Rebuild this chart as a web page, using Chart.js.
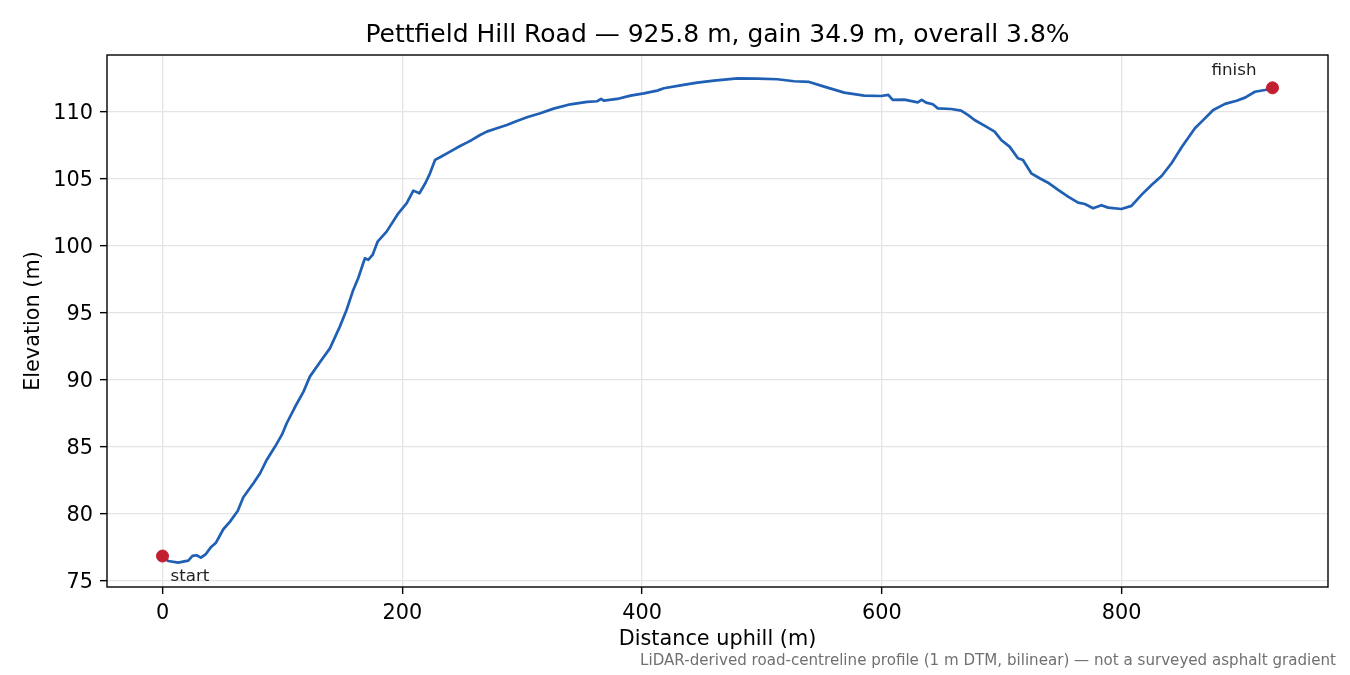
<!DOCTYPE html>
<html>
<head>
<meta charset="utf-8">
<script src="https://cdn.jsdelivr.net/npm/chart.js@4.4.1/dist/chart.umd.min.js"></script>
<style>
    html, body { margin: 0; padding: 0; background: #fff; }
    #wrap { width: 1350px; height: 675px; }
</style>
</head>
<body>
<div id="wrap"><canvas id="profile-chart" width="1350" height="675"></canvas></div>
<script>
// distance along the road (m) and elevation (m)
const distance = [
    0, 4.7, 13.1, 21.5, 25, 28.4, 32, 36.2, 40.1, 44.6,
    50.7, 56.3, 62.7, 67.4, 75.8, 81.4, 86.9, 93.9, 99.5, 103.6,
    110.6, 117.6, 122.9, 132.6, 139.6, 147.9, 153.5, 159.1, 163.2, 168.8,
    171.6, 175.2, 179.4, 186.9, 196.7, 203.7, 209.2, 214.3, 219.4, 223.1,
    227.3, 231.5, 239.9, 248.2, 253.8, 258, 264.9, 270.5, 278.9, 287.2,
    295.6, 304, 315.1, 326.2, 340.2, 354.1, 362.5, 365.8, 368, 379.2,
    390.3, 401.5, 412.6, 418.2, 432.1, 446, 460, 479.5, 496.2, 512.9,
    526.8, 539.4, 551.9, 568.6, 585.3, 599.3, 605.4, 609, 618.7, 629.9,
    633.2, 636.9, 642.5, 646.7, 657.8, 666.1, 671.7, 677.3, 687, 694,
    699.5, 706.5, 713.5, 717.7, 724.6, 731.6, 738.6, 747, 755.3, 763.7,
    769.3, 776.2, 783.1, 788.7, 799.8, 808.2, 816.5, 824.9, 833.3, 841.6,
    850, 861.1, 866.7, 876.4, 886.2, 895.9, 902.9, 911.2, 919.6, 925.8
];
const elevation = [
    76.86, 76.49, 76.37, 76.52, 76.87, 76.92, 76.74, 77.01, 77.49, 77.86,
    78.86, 79.43, 80.22, 81.25, 82.29, 83.04, 84.03, 85.03, 85.9, 86.77,
    88.0, 89.13, 90.25, 91.49, 92.36, 93.98, 95.22, 96.72, 97.59, 99.08,
    98.96, 99.33, 100.32, 101.07, 102.44, 103.19, 104.13, 103.93, 104.72, 105.42,
    106.42, 106.62, 107.04, 107.46, 107.71, 107.91, 108.28, 108.53, 108.78, 109.03,
    109.33, 109.6, 109.9, 110.25, 110.57, 110.75, 110.8, 110.97, 110.84, 110.97,
    111.22, 111.39, 111.59, 111.77, 111.98, 112.19, 112.34, 112.51, 112.49, 112.44,
    112.29, 112.24, 111.89, 111.44, 111.22, 111.19, 111.27, 110.9, 110.92, 110.72,
    110.9, 110.7, 110.57, 110.27, 110.22, 110.1, 109.78, 109.4, 108.9, 108.53,
    107.91, 107.41, 106.54, 106.42, 105.42, 105.05, 104.72, 104.18, 103.68, 103.23,
    103.13, 102.81, 103.04, 102.86, 102.76, 102.99, 103.81, 104.55, 105.22, 106.17,
    107.36, 108.78, 109.28, 110.15, 110.6, 110.84, 111.07, 111.51, 111.64, 111.8
];

const markerDist = [0, 925.8];
const markerElev = [76.86, 111.8];
const markerText = ["start", "finish"];

const xTicks = [0, 200, 400, 600, 800];
const yTicks = [75, 80, 85, 90, 95, 100, 105, 110];

const titleText = "Pettfield Hill Road — 925.8 m, gain 34.9 m, overall 3.8%";
const noteText = "LiDAR-derived road-centreline profile (1 m DTM, bilinear) — not a surveyed asphalt gradient";
const FONT = "'DejaVu Sans', sans-serif";

// title, frame, start/finish labels and the footnote
const extras = {
    id: 'extras',
    afterDraw(chart) {
        const { ctx, chartArea: a, scales: { x, y } } = chart;
        ctx.save();
        ctx.strokeStyle = '#000';
        ctx.lineWidth = 1.4;
        ctx.strokeRect(a.left, a.top, a.right - a.left, a.bottom - a.top);

        ctx.fillStyle = '#000';
        ctx.font = `25px ${FONT}`;
        ctx.textAlign = 'center';
        ctx.textBaseline = 'alphabetic';
        ctx.fillText(titleText, (a.left + a.right) / 2, 42);

        ctx.font = `16.7px ${FONT}`;
        ctx.fillStyle = '#222';
        const sx = x.getPixelForValue(markerDist[0]);
        const sy = y.getPixelForValue(markerElev[0]);
        ctx.textAlign = 'left';
        ctx.fillText(markerText[0], sx + 8, sy + 25);
        const fx = x.getPixelForValue(markerDist[1]);
        const fy = y.getPixelForValue(markerElev[1]);
        ctx.textAlign = 'right';
        ctx.fillText(markerText[1], fx - 16, fy - 13);

        ctx.font = `15.1px ${FONT}`;
        ctx.fillStyle = '#707070';
        ctx.textAlign = 'right';
        ctx.fillText(noteText, 1336, 665);
        ctx.restore();
    }
};

new Chart(document.getElementById("profile-chart"), {
    type: 'scatter',
    data: {
        datasets: [{
            label: "Ends",
            data: markerDist.map((d, i) => ({ x: d, y: markerElev[i] })),
            backgroundColor: "#c21f30",
            borderColor: "#c21f30",
            pointRadius: 6,
            pointHoverRadius: 6,
            order: 0
        }, {
            label: "Elevation",
            data: distance.map((d, i) => ({ x: d, y: elevation[i] })),
            showLine: true,
            borderColor: "#1f5fb4",
            borderWidth: 2.7,
            borderJoinStyle: 'round',
            tension: 0,
            pointRadius: 0,
            order: 1
        }]
    },
    options: {
        responsive: false,
        animation: false,
        devicePixelRatio: 1,
        layout: { padding: { top: 55, right: 22, bottom: 0, left: 0 } },
        plugins: {
            legend: { display: false },
            tooltip: { enabled: false },
            title: { display: false }
        },
        scales: {
            x: {
                type: 'linear',
                min: -46.3,
                max: 972.1,
                afterBuildTicks: (scale) => { scale.ticks = xTicks.map(v => ({ value: v })); },
                afterFit: (scale) => { scale.height = 88; },
                border: { display: false },
                grid: { color: '#e4e4e4', lineWidth: 1.3, tickColor: '#000', tickLength: 7, tickWidth: 1.4 },
                ticks: { color: '#000', padding: 7, maxRotation: 0, font: { family: FONT, size: 20.8 } },
                title: {
                    display: true,
                    text: 'Distance uphill (m)',
                    color: '#000',
                    font: { family: FONT, size: 20.8, lineHeight: 1.2 },
                    padding: { top: 0, bottom: 22.5 }
                }
            },
            y: {
                type: 'linear',
                min: 74.55,
                max: 114.25,
                afterBuildTicks: (scale) => { scale.ticks = yTicks.map(v => ({ value: v })); },
                afterFit: (scale) => { scale.width = 107; },
                border: { display: false },
                grid: { color: '#e4e4e4', lineWidth: 1.3, tickColor: '#000', tickLength: 7, tickWidth: 1.4 },
                ticks: { color: '#000', padding: 7, labelOffset: 2, font: { family: FONT, size: 20.8 } },
                title: {
                    display: true,
                    text: 'Elevation (m)',
                    color: '#000',
                    font: { family: FONT, size: 20.8, lineHeight: 1.2 },
                    padding: { top: 21.5, bottom: 0 }
                }
            }
        }
    },
    plugins: [extras]
});
</script>
</body>
</html>
